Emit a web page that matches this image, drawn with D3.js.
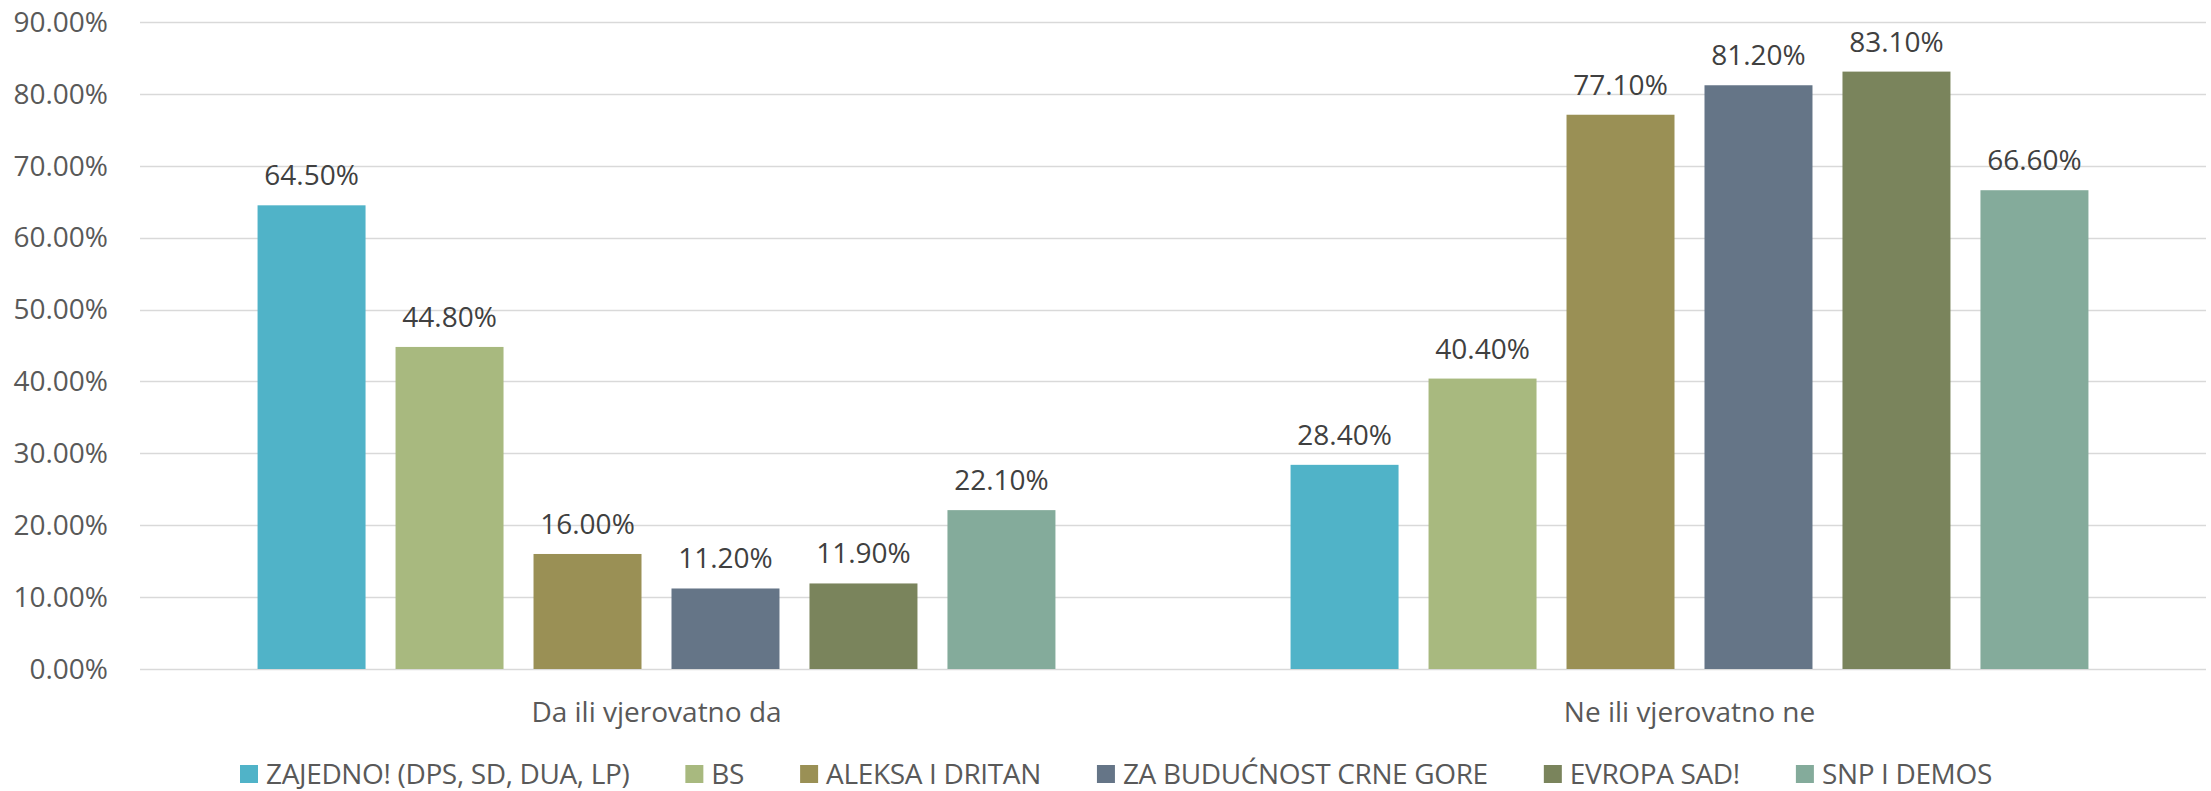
<!DOCTYPE html>
<html>
<head>
<meta charset="utf-8">
<script src="https://cdn.jsdelivr.net/npm/d3@7"></script>
<style>
  body { margin: 0; background: #fff; }
  text { font-family: "Open Sans", sans-serif; }
</style>
</head>
<body>
<div id="chart"></div>
<script>
var categories = ["Da ili vjerovatno da", "Ne ili vjerovatno ne"];
var series = ["ZAJEDNO! (DPS, SD, DUA, LP)", "BS", "ALEKSA I DRITAN", "ZA BUDUĆNOST CRNE GORE", "EVROPA SAD!", "SNP I DEMOS"];
var colors = ["#50b3c8", "#a8b97f", "#9a9055", "#657587", "#7a845c", "#84ab9b"];
var daValues = [0.645, 0.448, 0.160, 0.112, 0.119, 0.221];
var neValues = [0.284, 0.404, 0.771, 0.812, 0.831, 0.666];
var yTicks = [0, 0.1, 0.2, 0.3, 0.4, 0.5, 0.6, 0.7, 0.8, 0.9];

var W = 2211, H = 791;
var plotLeft = 140, plotRight = 2206, plotTop = 22, plotBottom = 669;

var svg = d3.select("#chart").append("svg")
    .attr("width", W)
    .attr("height", H);

var y = d3.scaleLinear().domain([0, 0.9]).range([plotBottom, plotTop]);

var x0 = d3.scaleBand().domain(categories).range([plotLeft, plotRight]).padding(0);
var x1 = d3.scaleBand().domain(series).range([0, x0.bandwidth()])
    .paddingInner(0.2174).paddingOuter(0.852);

// gridlines
svg.append("g").selectAll("line")
    .data(yTicks)
  .enter().append("line")
    .attr("x1", plotLeft).attr("x2", plotRight)
    .attr("y1", function(d) { return Math.round(y(d)) + 0.5; })
    .attr("y2", function(d) { return Math.round(y(d)) + 0.5; })
    .style("stroke", "#d9d9d9")
    .style("stroke-width", 1.6);

// y axis labels
var fmt = d3.format(".2%");
svg.append("g").selectAll("text")
    .data(yTicks)
  .enter().append("text")
    .attr("x", 108)
    .attr("y", function(d) { return y(d); })
    .attr("dy", "0.35em")
    .attr("text-anchor", "end")
    .style("font-size", "28px")
    .style("fill", "#595959")
    .text(function(d) { return fmt(d); });

var rows = [daValues, neValues];

var groups = svg.selectAll("g.group")
    .data(categories)
  .enter().append("g")
    .attr("class", "group")
    .attr("transform", function(d) { return "translate(" + x0(d) + ",0)"; });

groups.selectAll("rect")
    .data(function(d, i) { return rows[i].map(function(v, j) { return {s: series[j], v: v, c: colors[j]}; }); })
  .enter().append("rect")
    .attr("x", function(d) { return x1(d.s); })
    .attr("width", x1.bandwidth())
    .attr("y", function(d) { return y(d.v); })
    .attr("height", function(d) { return y(0) - y(d.v); })
    .style("fill", function(d) { return d.c; });

groups.selectAll("text.lbl")
    .data(function(d, i) { return rows[i].map(function(v, j) { return {s: series[j], v: v}; }); })
  .enter().append("text")
    .attr("class", "lbl")
    .attr("x", function(d) { return x1(d.s) + x1.bandwidth() / 2; })
    .attr("y", function(d) { return y(d.v) - 20; })
    .attr("text-anchor", "middle")
    .style("font-size", "28px")
    .style("fill", "#404040")
    .text(function(d) { return fmt(d.v); });

// category labels
svg.append("g").selectAll("text")
    .data(categories)
  .enter().append("text")
    .attr("x", function(d) { return x0(d) + x0.bandwidth() / 2; })
    .attr("y", 712)
    .attr("dy", "0.35em")
    .attr("text-anchor", "middle")
    .style("font-size", "28px")
    .style("fill", "#595959")
    .text(function(d) { return d; });

// legend
var legend = svg.append("g").attr("class", "legend");
var lx = 240, sq = 18, gapText = 8, gapItem = 56, ly = 774;
series.forEach(function(s, i) {
  var item = legend.append("g");
  item.append("rect")
      .attr("x", lx).attr("y", ly - sq / 2)
      .attr("width", sq).attr("height", sq)
      .style("fill", colors[i]);
  var t = item.append("text")
      .attr("x", lx + sq + gapText)
      .attr("y", ly)
      .attr("dy", "0.35em")
      .style("font-size", "28px")
      .style("letter-spacing", "-0.35px")
      .style("fill", "#595959")
      .text(s);
  lx += sq + gapText + t.node().getComputedTextLength() + gapItem;
});
</script>
</body>
</html>
